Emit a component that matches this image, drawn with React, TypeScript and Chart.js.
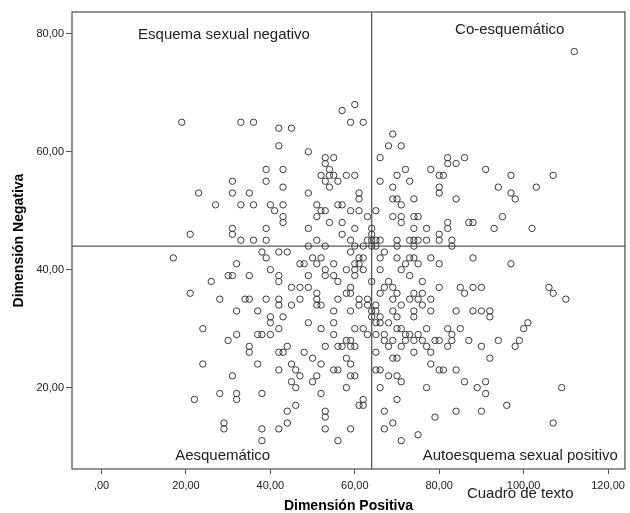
import React, { useEffect, useRef } from 'react';
import { Chart, registerables } from 'chart.js';

Chart.register(...registerables);

// Axis ticks
const X_TICKS = [0, 20, 40, 60, 80, 100, 120];
const X_TICK_LABELS = [',00', '20,00', '40,00', '60,00', '80,00', '100,00', '120,00'];
const Y_TICKS = [20, 40, 60, 80];
const Y_TICK_LABELS = ['20,00', '40,00', '60,00', '80,00'];

// Reference lines (means)
const MEAN_POSITIVA = 64;
const MEAN_NEGATIVA = 44;

// Quadrant: Esquema sexual negativo (upper-left)
const negX = [
  19, 33, 36, 42, 45, 42, 49, 57, 60, 59, 62,
  53, 55, 53, 54, 39, 43,
  31, 39, 53, 56,
  52, 54, 55, 58, 60,
  43, 54,
  23, 31, 35, 49, 61,
  61,
  27, 33, 36, 40, 43, 51, 56, 57,
  41, 52, 53, 59, 61,
  43, 51, 63,
  43, 54, 57,
  31, 39, 49, 60,
  31, 21, 57,
  33, 36, 39, 51, 59, 63,
  49, 53, 60, 62,
];
const negY = [
  65, 65, 65, 64, 64, 61, 60, 67, 68, 65, 65,
  59, 59, 58, 57, 57, 57,
  55, 55, 55, 55,
  56, 56, 56, 56, 56,
  54, 54,
  53, 53, 53, 53, 53,
  52,
  51, 51, 51, 51, 51, 51, 51, 51,
  50, 50, 50, 50, 50,
  49, 49, 49,
  48, 48, 48,
  47, 47, 47, 47,
  46, 46, 46,
  45, 45, 45, 45, 45, 45,
  44, 44, 44, 44,
];

// Quadrant: Co-esquemático (upper-right)
const coX = [
  112,
  69, 68, 71,
  66, 82, 86,
  82, 84,
  72, 78, 91,
  70, 80, 81, 97, 107,
  66, 73,
  69, 80, 94, 103,
  80, 97,
  69, 70, 74, 84, 98,
  71,
  65,
  69, 71, 74, 75, 95,
  71, 82, 87, 88,
  64, 74, 77, 82, 93, 102,
  64, 80,
  64, 65, 66, 70, 73, 74, 75, 77, 80, 83,
  64, 65, 70, 74, 83,
];
const coY = [
  77,
  63, 61, 61,
  59, 59, 59,
  58, 58,
  57, 57, 57,
  56, 56, 56, 56, 56,
  55, 55,
  54, 54, 54, 54,
  53, 53,
  52, 52, 52, 52, 52,
  51,
  50,
  49, 49, 49, 49, 49,
  48, 48, 48, 48,
  47, 47, 47, 47, 47, 47,
  46, 46,
  45, 45, 45, 45, 45, 45, 45, 45, 45, 45,
  44, 44, 44, 44, 44,
];

// Quadrant: Aesquemático (lower-left)
const aesX = [
  38, 42, 44, 59,
  17, 39, 50, 52, 61, 62,
  32, 47, 48, 51, 55, 60, 61,
  40, 53, 58, 60, 62,
  30, 31, 35, 42, 49, 53, 55, 60,
  26, 42, 56,
  45, 47, 49, 59,
  21, 51, 58, 59,
  28, 34, 35, 39, 42, 47, 51, 56, 61, 63,
  42, 45, 51, 52, 61, 63,
  32, 37, 55, 59,
  40, 43,
  40, 49, 55,
  24, 42, 52, 60, 62,
  32, 37, 38, 40, 55, 63,
  30, 58, 59,
  35, 44, 53, 56, 57, 59, 60,
  35, 42, 43, 48,
  50, 58,
  24, 37, 45, 52, 59,
  42, 46, 55, 56,
  31, 47, 51, 59, 60,
  45, 50,
  46, 58,
  28, 32, 38, 52,
  22, 32, 62,
  46, 61, 62,
  44, 53,
  53,
  29, 44,
  29, 38, 42, 53, 59,
  38, 56,
];
const aesY = [
  43, 43, 43, 43,
  42, 42, 42, 42, 42, 42,
  41, 41, 41, 41, 41, 41, 41,
  40, 40, 40, 40, 40,
  39, 39, 39, 39, 39, 39, 39, 39,
  38, 38, 38,
  37, 37, 37, 37,
  36, 36, 36, 36,
  35, 35, 35, 35, 35, 35, 35, 35, 35, 35,
  34, 34, 34, 34, 34, 34,
  33, 33, 33, 33,
  32, 32,
  31, 31, 31,
  30, 30, 30, 30, 30,
  29, 29, 29, 29, 29, 29,
  28, 28, 28,
  27, 27, 27, 27, 27, 27, 27,
  26, 26, 26, 26,
  25, 25,
  24, 24, 24, 24, 24,
  23, 23, 23, 23,
  22, 22, 22, 22, 22,
  21, 21,
  20, 20,
  19, 19, 19, 19,
  18, 18, 18,
  17, 17, 17,
  16, 16,
  15,
  14, 14,
  13, 13, 13, 13, 13,
  11, 11,
];

// Quadrant: Autoesquema sexual positivo (lower-right)
const posX = [
  67,
  66, 70, 73, 74, 78, 88,
  72, 75, 80, 97,
  66, 71,
  73,
  64, 68, 76,
  67, 69, 80, 85, 88, 90, 106,
  66, 70, 74, 76, 86, 107,
  69, 73, 75, 78, 110,
  65, 71, 76,
  64, 65, 69, 74, 78, 84, 88, 90, 92,
  64, 66, 70, 74, 92,
  65, 66, 68, 101,
  70, 71, 77, 82, 85, 100,
  65, 67, 72, 73, 75, 83,
  67, 69, 72, 74, 76, 79, 80, 83, 87, 94, 99,
  68, 71, 77, 82, 90, 98,
  65, 74, 78,
  69, 70, 92,
  78,
  65, 66, 80, 81, 84,
  68, 70,
  71, 86, 91,
  66, 77, 89, 109,
  91,
  70,
  96,
  67, 84, 90,
  79,
  69, 107,
  67,
  75,
  71,
];
const posY = [
  43,
  42, 42, 42, 42, 42, 42,
  41, 41, 41, 41,
  40, 40,
  39,
  38, 38, 38,
  37, 37, 37, 37, 37, 37, 37,
  36, 36, 36, 36, 36, 36,
  35, 35, 35, 35, 35,
  34, 34, 34,
  33, 33, 33, 33, 33, 33, 33, 33, 33,
  32, 32, 32, 32, 32,
  31, 31, 31, 31,
  30, 30, 30, 30, 30, 30,
  29, 29, 29, 29, 29, 29,
  28, 28, 28, 28, 28, 28, 28, 28, 28, 28, 28,
  27, 27, 27, 27, 27, 27,
  26, 26, 26,
  25, 25, 25,
  24,
  23, 23, 23, 23, 23,
  22, 22,
  21, 21, 21,
  20, 20, 20, 20,
  19,
  18,
  17,
  16, 16, 16,
  15,
  14, 14,
  13,
  12,
  11,
];

const X_LIMITS = [-7, 124];
const Y_LIMITS = [6.2, 83.7];

const QUADRANT_TEXTS = [
  { text: 'Esquema sexual negativo', x: 29.0, y: 79.8 },
  { text: 'Co-esquemático', x: 96.7, y: 80.6 },
  { text: 'Aesquemático', x: 28.7, y: 8.4 },
  { text: 'Autoesquema sexual positivo', x: 99.2, y: 8.4 },
  { text: 'Cuadro de texto', x: 99.2, y: 2.0 },
];

function toPoints(xs: number[], ys: number[]) {
  return xs.map((v, i) => ({ x: v, y: ys[i] }));
}

const framePlugin = {
  id: 'frameAndText',
  beforeDatasetsDraw(chart: any) {
    const { ctx, chartArea: a, scales } = chart;
    const vx = scales.x.getPixelForValue(MEAN_POSITIVA);
    const hy = scales.y.getPixelForValue(MEAN_NEGATIVA);
    ctx.save();
    ctx.strokeStyle = '#5a5a5a';
    ctx.lineWidth = 1.3;
    ctx.beginPath();
    ctx.moveTo(vx, a.top);
    ctx.lineTo(vx, a.bottom);
    ctx.moveTo(a.left, hy);
    ctx.lineTo(a.right, hy);
    ctx.stroke();
    ctx.strokeRect(a.left, a.top, a.right - a.left, a.bottom - a.top);
    ctx.restore();
  },
  afterDraw(chart: any) {
    const { ctx, scales } = chart;
    ctx.save();
    ctx.font = '15px "Liberation Sans", Arial, sans-serif';
    ctx.fillStyle = '#222';
    ctx.textAlign = 'center';
    ctx.textBaseline = 'middle';
    QUADRANT_TEXTS.forEach((t) => {
      ctx.fillText(t.text, scales.x.getPixelForValue(t.x), scales.y.getPixelForValue(t.y));
    });
    ctx.restore();
  },
};

export default function App() {
  const ref = useRef<HTMLCanvasElement | null>(null);

  useEffect(() => {
    if (!ref.current) return;
    const points = [
      ...toPoints(negX, negY),
      ...toPoints(coX, coY),
      ...toPoints(aesX, aesY),
      ...toPoints(posX, posY),
    ];
    const tickFont = { family: '"Liberation Sans", Arial, sans-serif', size: 11 };
    const titleFont = { family: '"Liberation Sans", Arial, sans-serif', size: 14, weight: 'bold' as const, lineHeight: 1 };
    const chart = new Chart(ref.current, {
      type: 'scatter',
      data: {
        datasets: [
          {
            data: points,
            pointRadius: 3.2,
            pointHoverRadius: 3.2,
            borderWidth: 1,
            borderColor: '#3a3a3a',
            backgroundColor: 'rgba(0,0,0,0)',
          },
        ],
      },
      options: {
        animation: false,
        responsive: false,
        events: [],
        layout: { padding: { left: 0, right: 1, top: 12, bottom: 0 } },
        plugins: { legend: { display: false }, tooltip: { enabled: false } },
        scales: {
          x: {
            type: 'linear',
            min: X_LIMITS[0],
            max: X_LIMITS[1],
            afterBuildTicks: (s: any) => {
              s.ticks = X_TICKS.map((v) => ({ value: v }));
            },
            afterFit: (s: any) => {
              s.height = 44;
            },
            ticks: {
              autoSkip: false,
              maxRotation: 0,
              padding: 5,
              color: '#222',
              font: tickFont,
              callback: (v: any) => {
                const i = X_TICKS.indexOf(Number(v));
                return i >= 0 ? X_TICK_LABELS[i] : '';
              },
            },
            grid: { drawOnChartArea: false, drawTicks: true, tickLength: 5, color: '#555', tickColor: '#555' },
            border: { display: false },
            title: { display: true, text: 'Dimensión Positiva', color: '#000', font: titleFont, padding: { top: 0, bottom: 0 } },
          },
          y: {
            type: 'linear',
            min: Y_LIMITS[0],
            max: Y_LIMITS[1],
            afterBuildTicks: (s: any) => {
              s.ticks = Y_TICKS.map((v) => ({ value: v }));
            },
            afterFit: (s: any) => {
              s.width = 72;
            },
            ticks: {
              autoSkip: false,
              padding: 2,
              color: '#222',
              font: tickFont,
              callback: (v: any) => {
                const i = Y_TICKS.indexOf(Number(v));
                return i >= 0 ? Y_TICK_LABELS[i] : '';
              },
            },
            grid: { drawOnChartArea: false, drawTicks: true, tickLength: 6, color: '#555', tickColor: '#555' },
            border: { display: false },
            title: { display: true, text: 'Dimensión Negativa', color: '#000', font: titleFont, padding: { top: 12, bottom: 0 } },
          },
        },
      },
      plugins: [framePlugin],
    });
    return () => chart.destroy();
  }, []);

  return (
    <div style={{ position: 'absolute', left: 0, top: 0, width: 630, height: 513, background: '#fff' }}>
      <canvas ref={ref} width={630} height={513} style={{ display: 'block', width: 630, height: 513 }} />
    </div>
  );
}
